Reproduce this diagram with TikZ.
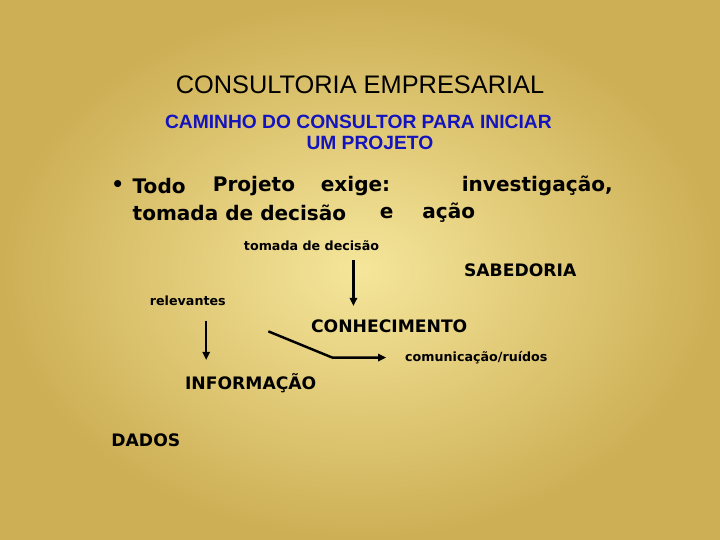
\documentclass[tikz,border=0pt]{standalone}
\usepackage{fontspec}
\setmainfont{DejaVu Sans}
\newfontfamily\arial{Liberation Sans}
\usetikzlibrary{arrows.meta}
\definecolor{gold1}{RGB}{245,230,155}
\definecolor{gold2}{RGB}{205,175,85}
\definecolor{navy}{RGB}{20,20,190}
\tikzset{lbl/.style={inner sep=0pt,anchor=west},
big/.style={font=\fontsize{24.5}{28}\selectfont\bfseries},
sm/.style={font=\fontsize{15.5}{18}\selectfont\bfseries},
capsz/.style={font=\fontsize{21}{24}\selectfont\bfseries},
arr/.style={line width=3pt,-{Triangle[length=10pt,width=9pt]}}}
\begin{document}
\begin{tikzpicture}[x=1pt,y=-1pt]
\shade[inner color=gold1,outer color=gold2] (-80,-60) rectangle (800,600);
\useasboundingbox (0,0) rectangle (720,540);
\node[anchor=center,inner sep=0pt,font=\arial\fontsize{31}{34}\selectfont] (t) at (360,44) {CONSULTORIA EMPRESARIAL};
\node[anchor=center,align=center,text=navy,inner sep=0pt,font=\arial\fontsize{23.5}{25}\selectfont\bfseries] (s) at (358,102) {CAMINHO DO CONSULTOR PARA INICIAR\\\hspace*{1.2em}UM PROJETO};
\node[lbl,big] (b1) at (56,167) {•};
\node[lbl,big] (w1) at (82,167) {Todo};
\node[lbl,big] (w2) at (180,167) {Projeto};
\node[lbl,big] (w3) at (312,167) {exige:};
\node[lbl,big,anchor=east] (l1b) at (669,167) {investigação,};
\node[lbl,big] (l2) at (82,200) {tomada de decisão};
\node[lbl,big] (l2e) at (384,200) {e};
\node[lbl,big] (l2b) at (436,200) {ação};
\node[lbl,sm] (td) at (218,240) {tomada de decisão};
\node[lbl,capsz] (sab) at (487,270) {SABEDORIA};
\node[lbl,sm] (rel) at (103,307) {relevantes};
\node[lbl,capsz] (con) at (300,339) {CONHECIMENTO};
\node[lbl,sm] (com) at (415,377) {comunicação/ruídos};
\node[lbl,capsz] (inf) at (146,408) {INFORMAÇÃO};
\node[lbl,capsz] (dad) at (56,478) {DADOS};
\coordinate (a1) at (352,258); \coordinate (a1e) at (352,314);
\coordinate (a2) at (172,332); \coordinate (a2e) at (172,380);
\coordinate (c1) at (248,345); \coordinate (c2) at (326,377); \coordinate (c3) at (392,377);
\draw[arr] (a1) -- (a1e);
\draw[arr] (a2) -- (a2e);
\draw[arr,line join=round] (c1) -- (c2) -- (c3);
\end{tikzpicture}
\end{document}
